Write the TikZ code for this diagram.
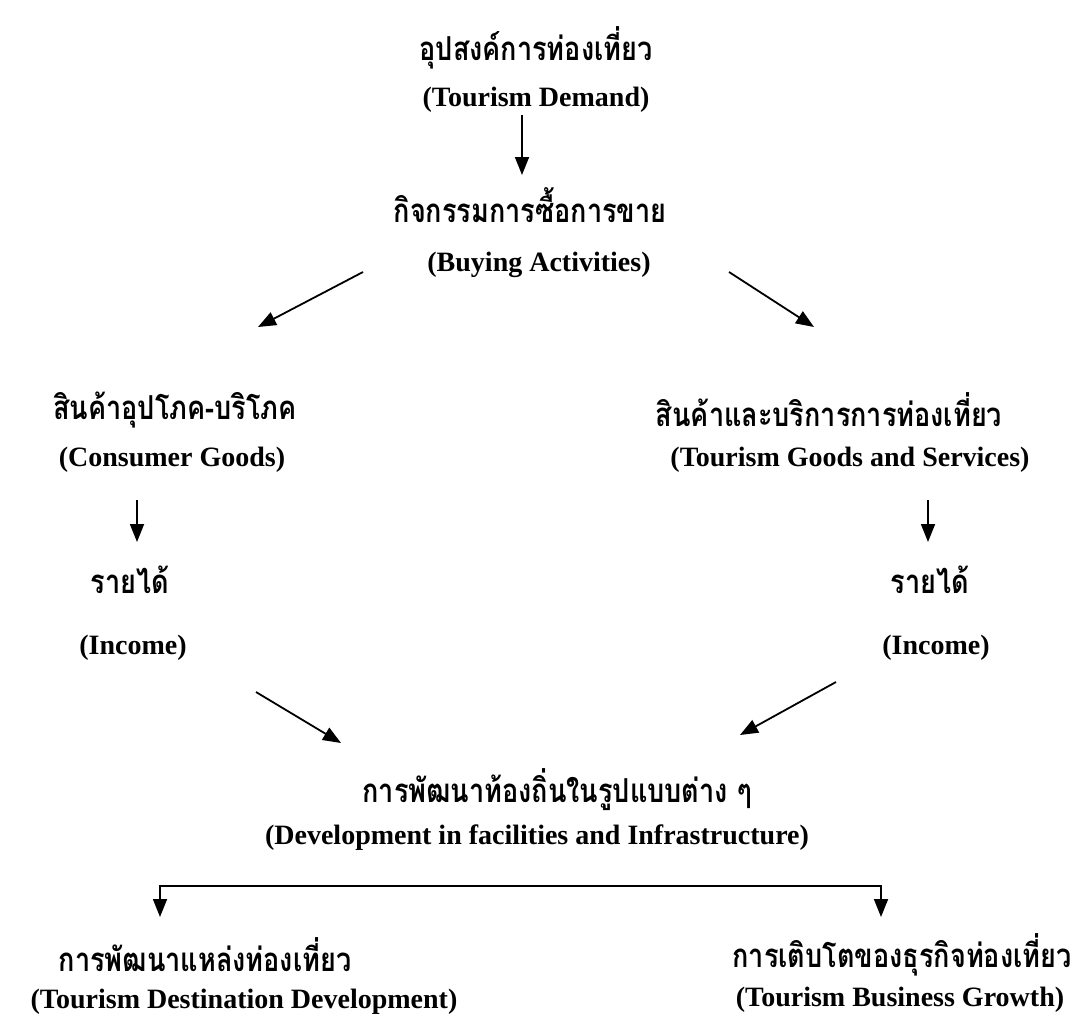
\documentclass[tikz,border=0pt]{standalone}
\usepackage{fontspec}
\setmainfont{Liberation Serif}
\newfontfamily\thaifont[Script=Thai, FakeStretch=0.82]{Loma}
\usetikzlibrary{arrows.meta}

\begin{document}
\begin{tikzpicture}
    [x=0.5pt, y=-0.5pt,
    arr/.style={line width=0.9pt, -{Triangle[width=7pt, length=9pt]}},
    th/.style={inner sep=0pt, font=\thaifont\bfseries\fontsize{16.5}{19}\selectfont},
    en/.style={inner sep=0pt, font=\bfseries\fontsize{14}{17}\selectfont}]
        \useasboundingbox (0,0) rectangle (1080,1017);

        % top
        \node[th] (demandTH) at (536,48) {อุปสงค์การท่องเที่ยว};
        \node[en] (demandEN) at (536,100) {(Tourism Demand)};
        \node[th] (buyTH) at (530,205) {กิจกรรมการซื้อการขาย};
        \node[en] (buyEN) at (539,265) {(Buying Activities)};

        % left branch
        \node[th] (consTH) at (175,410) {สินค้าอุปโภค-บริโภค};
        \node[en] (consEN) at (172,460) {(Consumer Goods)};
        \node[th] (incLTH) at (130,580) {รายได้};
        \node[en] (incLEN) at (133,648) {(Income)};

        % right branch
        \node[th] (goodsTH) at (829,410) {สินค้าและบริการการท่องเที่ยว};
        \node[en] (goodsEN) at (850,460) {(Tourism Goods and Services)};
        \node[th] (incRTH) at (930,580) {รายได้};
        \node[en] (incREN) at (936,648) {(Income)};

        % bottom
        \node[th] (devTH) at (557,790) {การพัฒนาท้องถิ่นในรูปแบบต่าง ๆ};
        \node[en] (devEN) at (537,838) {(Development in facilities and Infrastructure)};
        \node[th] (destTH) at (205,955) {การพัฒนาแหล่งท่องเที่ยว};
        \node[en] (destEN) at (244,1002) {(Tourism Destination Development)};
        \node[th] (growTH) at (902,955) {การเติบโตของธุรกิจท่องเที่ยว};
        \node[en] (growEN) at (900,1000) {(Tourism Business Growth)};

        % arrow ends
        \coordinate (demandOut) at (522,115);
        \coordinate (buyIn) at (522,175);
        \coordinate (buyL) at (363,272);
        \coordinate (consTop) at (258,327);
        \coordinate (buyR) at (729,272);
        \coordinate (goodsTop) at (814,327);
        \coordinate (consOut) at (137,500);
        \coordinate (incLIn) at (137,542);
        \coordinate (goodsOut) at (928,500);
        \coordinate (incRIn) at (928,542);
        \coordinate (incLOut) at (256,692);
        \coordinate (devL) at (341,743);
        \coordinate (incROut) at (836,682);
        \coordinate (devR) at (740,735);
        \coordinate (splitL) at (160,886);
        \coordinate (splitR) at (881,886);
        \coordinate (destTop) at (160,917);
        \coordinate (growTop) at (881,917);

        \draw[arr] (demandOut) -- (buyIn);
        \draw[arr] (buyL) -- (consTop);
        \draw[arr] (buyR) -- (goodsTop);
        \draw[arr] (consOut) -- (incLIn);
        \draw[arr] (goodsOut) -- (incRIn);
        \draw[arr] (incLOut) -- (devL);
        \draw[arr] (incROut) -- (devR);
        \draw[line width=0.9pt, {Triangle[width=7pt, length=9pt]}-{Triangle[width=7pt, length=9pt]}]
            (destTop) -- (splitL) -- (splitR) -- (growTop);
\end{tikzpicture}
\end{document}
